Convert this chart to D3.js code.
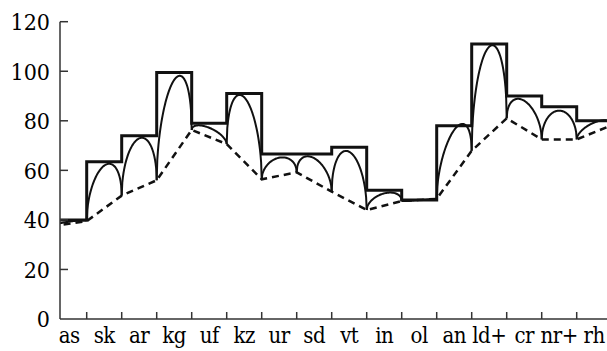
<!DOCTYPE html>
<html>
<head>
<meta charset="utf-8">
<script src="https://cdn.jsdelivr.net/npm/d3@7"></script>
<style>
  body { margin: 0; background: #fff; }
</style>
</head>
<body>
<div id="chart"></div>
<script>
// Categories along the x axis
const categories = ["as", "sk", "ar", "kg", "uf", "kz", "ur", "sd", "vt", "in", "ol", "an", "ld+", "cr", "nr+", "rh"];
// Height of the step for each category
const stepValues = [40, 63.5, 74, 99.5, 79, 91, 66.6, 66.6, 69.3, 52, 48, 78, 111, 90, 85.7, 80];
// Dashed line values at the category boundaries (17 boundaries)
const dashValues = [37.5, 39.5, 49.8, 56, 76.3, 70.6, 56.4, 59.2, 51.4, 44, 47.6, 48.5, 67.9, 81, 72.5, 72.5, 78.2];
// Top of the arc inside each category
const arcPeaks = [39.3, 61.9, 72.9, 96.5, 77.2, 89.5, 65.1, 64.9, 67.5, 50.7, 48, 76.3, 109.9, 88.1, 84.1, 79.3];
const yTicks = [0, 20, 40, 60, 80, 100, 120];

const width = 607, height = 351;
const axisLeft = 60, axisBottom = 319;

const svg = d3.select("#chart")
    .append("svg")
    .attr("width", width)
    .attr("height", height);

// Scales: x runs over category boundaries, categories sit between them
const x = d3.scaleLinear()
    .domain([0, categories.length])
    .range([51.7, 611.7]);

const y = d3.scaleLinear()
    .domain([0, 120])
    .range([axisBottom, 21.7]);

svg.append("clipPath")
    .attr("id", "plot")
    .append("rect")
    .attr("x", axisLeft)
    .attr("y", 0)
    .attr("width", width - axisLeft)
    .attr("height", height);

const plot = svg.append("g").attr("clip-path", "url(#plot)");

// Dashed line through the boundaries
const line = d3.line().x(d => x(d[0])).y(d => y(d[1]));

plot.append("path")
    .datum(dashValues.map((v, i) => [i, v]))
    .attr("fill", "none")
    .attr("stroke", "#111")
    .attr("stroke-width", 2.5)
    .attr("stroke-dasharray", "7,5")
    .attr("d", line);

// Arcs between neighbouring boundaries
categories.forEach((c, i) => {
    const d0 = dashValues[i], d1 = dashValues[i + 1];
    const amp = arcPeaks[i] - (d0 + d1) / 2;
    const pts = d3.range(0, 61).map(j => {
        const t = j / 60;
        const s = Math.sqrt(Math.max(0, 1 - (2 * t - 1) * (2 * t - 1)));
        return [i + t, d0 + (d1 - d0) * t + amp * s];
    });
    plot.append("path")
        .datum(pts)
        .attr("fill", "none")
        .attr("stroke", "#111")
        .attr("stroke-width", 2)
        .attr("d", line);
});

// Thick step line
const stepPts = stepValues.map((v, i) => [i, v]);
stepPts.push([categories.length, stepValues[stepValues.length - 1]]);

plot.append("path")
    .datum(stepPts)
    .attr("fill", "none")
    .attr("stroke", "#111")
    .attr("stroke-width", 3)
    .attr("d", d3.line().x(d => x(d[0])).y(d => y(d[1])).curve(d3.curveStepAfter));

// Axes
const axisColor = "#333";

svg.append("line")
    .attr("x1", axisLeft).attr("x2", width)
    .attr("y1", axisBottom).attr("y2", axisBottom)
    .attr("stroke", axisColor).attr("stroke-width", 1.5);

svg.append("line")
    .attr("x1", axisLeft).attr("x2", axisLeft)
    .attr("y1", y(120)).attr("y2", axisBottom)
    .attr("stroke", axisColor).attr("stroke-width", 1.5);

// y ticks point inwards
svg.selectAll(".ytick")
    .data(yTicks.filter(t => t > 0))
    .enter()
    .append("line")
    .attr("x1", axisLeft).attr("x2", axisLeft + 8)
    .attr("y1", d => y(d)).attr("y2", d => y(d))
    .attr("stroke", axisColor).attr("stroke-width", 1.5);

svg.selectAll(".ylabel")
    .data(yTicks)
    .enter()
    .append("text")
    .attr("x", axisLeft - 10)
    .attr("y", d => y(d))
    .attr("dy", "0.36em")
    .attr("text-anchor", "end")
    .attr("font-family", "DejaVu Serif Condensed")
    .attr("font-size", 23)
    .text(d => d);

// x ticks at the category boundaries
svg.selectAll(".xtick")
    .data(d3.range(1, categories.length))
    .enter()
    .append("line")
    .attr("x1", d => x(d)).attr("x2", d => x(d))
    .attr("y1", axisBottom).attr("y2", axisBottom - 7)
    .attr("stroke", axisColor).attr("stroke-width", 1.5);

svg.selectAll(".xlabel")
    .data(categories)
    .enter()
    .append("text")
    .attr("x", (d, i) => x(i + 0.5))
    .attr("y", 343)
    .attr("text-anchor", "middle")
    .attr("font-family", "DejaVu Serif Condensed")
    .attr("font-size", 22)
    .attr("letter-spacing", -0.5)
    .text(d => d);
</script>
</body>
</html>
